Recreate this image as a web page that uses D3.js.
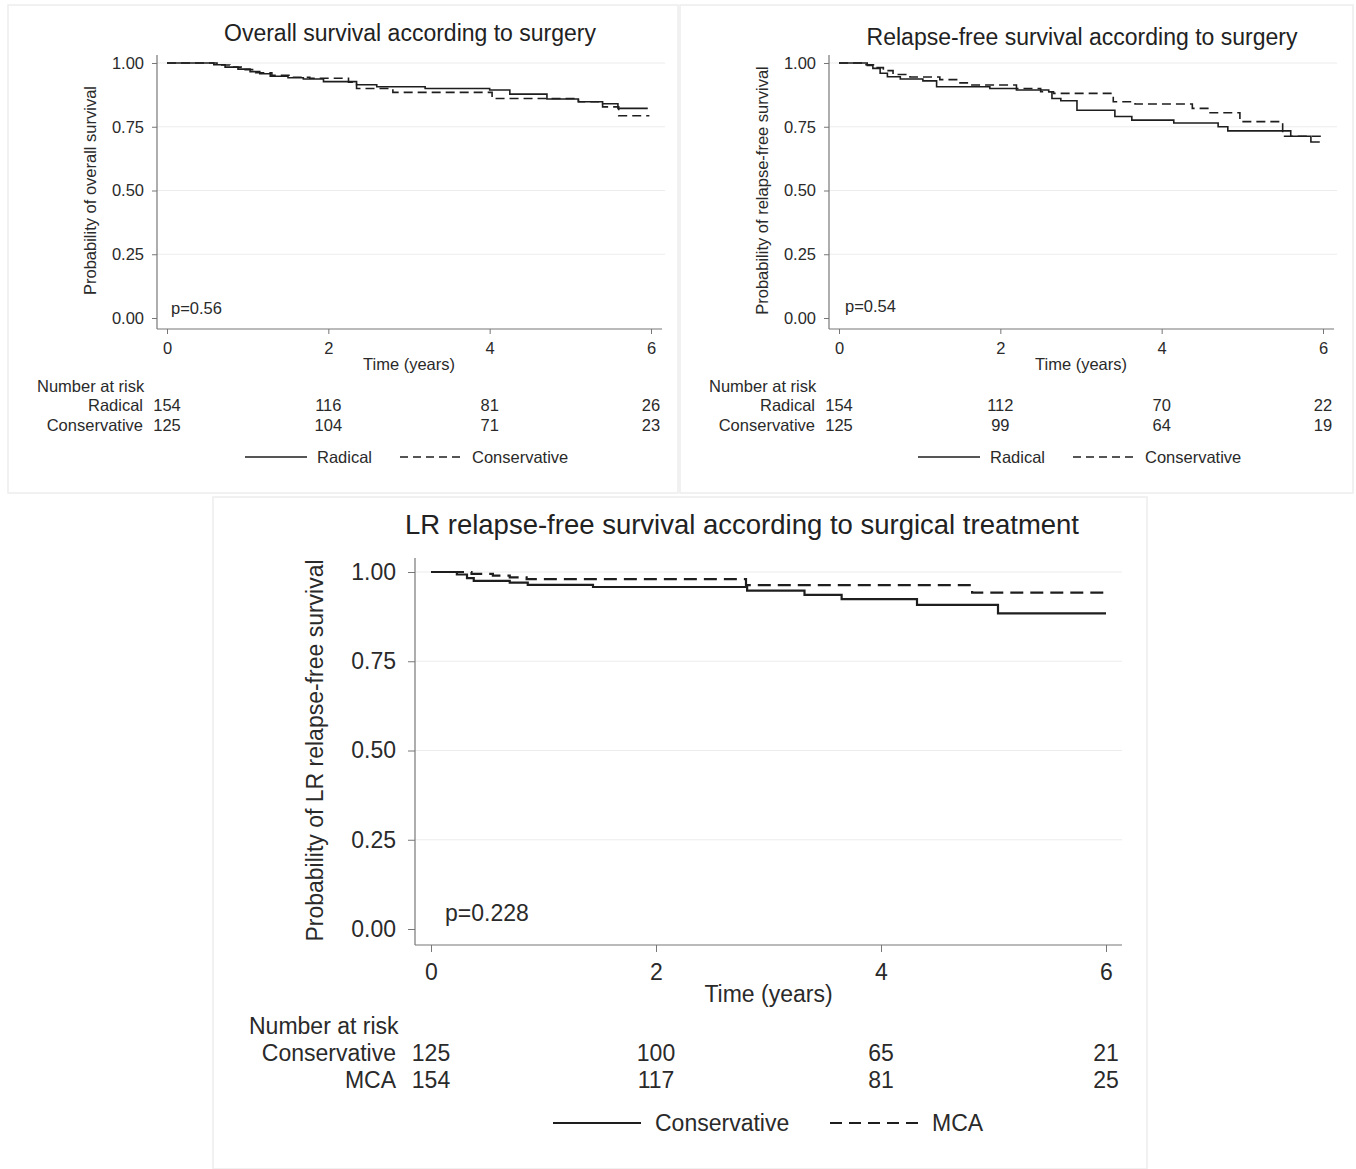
<!DOCTYPE html>
<html>
<head>
<meta charset="utf-8">
<script src="https://cdn.jsdelivr.net/npm/d3@7"></script>
<style>
  body { margin: 0; background: #fff; }
  svg { font-family: "Liberation Sans", Arial, sans-serif; }
</style>
</head>
<body>
<svg id="chart" width="1356" height="1169"></svg>
<script>
// ---- data: [time in years, survival] at each step ----
const timeTicks = [0, 2, 4, 6];
const probTicks = [0, 0.25, 0.5, 0.75, 1];

// Overall survival according to surgery
const osRadical = [[0,1],[0.58,0.993],[0.72,0.984],[0.88,0.976],[1.03,0.966],[1.15,0.958],[1.28,0.948],
  [1.5,0.942],[1.69,0.937],[1.94,0.927],[2.35,0.915],[2.6,0.907],[3.2,0.9],[4.0,0.894],[4.25,0.878],
  [4.71,0.859],[5.1,0.848],[5.4,0.84],[5.59,0.822],[5.96,0.822]];
const osConservative = [[0,1],[0.62,0.992],[0.78,0.984],[0.92,0.974],[1.1,0.962],[1.3,0.952],[1.55,0.944],
  [1.77,0.94],[2.25,0.925],[2.35,0.9],[2.8,0.885],[4.03,0.861],[5.1,0.848],[5.4,0.828],[5.6,0.793],[5.98,0.793]];
const osRiskRadical = [154, 116, 81, 26];
const osRiskConservative = [125, 104, 71, 23];

// Relapse-free survival according to surgery
const rfsRadical = [[0,1],[0.35,0.99],[0.42,0.979],[0.51,0.96],[0.6,0.946],[0.76,0.937],[1.04,0.93],[1.21,0.907],
  [1.87,0.9],[2.2,0.894],[2.6,0.887],[2.64,0.861],[2.75,0.852],[2.95,0.815],[3.42,0.79],[3.63,0.776],
  [4.15,0.765],[4.7,0.75],[4.82,0.734],[5.6,0.713],[5.85,0.69],[5.96,0.69]];
const rfsConservative = [[0,1],[0.3,0.993],[0.45,0.982],[0.55,0.97],[0.67,0.955],[0.88,0.945],[1.25,0.935],
  [1.5,0.922],[1.62,0.914],[2.2,0.9],[2.5,0.887],[2.66,0.881],[3.4,0.848],[3.67,0.839],[4.38,0.822],
  [4.6,0.805],[4.97,0.77],[5.5,0.713],[5.98,0.713]];
const rfsRiskRadical = [154, 112, 70, 22];
const rfsRiskConservative = [125, 99, 64, 19];

// LR relapse-free survival according to surgical treatment
const lrConservative = [[0,1],[0.23,0.993],[0.32,0.983],[0.38,0.975],[0.7,0.97],[0.86,0.964],[1.44,0.958],
  [2.81,0.948],[3.32,0.936],[3.65,0.924],[4.32,0.908],[5.04,0.884],[6.0,0.884]];
const lrMCA = [[0,1],[0.36,0.995],[0.55,0.99],[0.7,0.985],[0.85,0.98],[2.8,0.963],[4.81,0.942],[6.0,0.942]];
const lrRiskConservative = [125, 100, 65, 21];
const lrRiskMCA = [154, 117, 81, 25];

const svg = d3.select('#chart');

function drawKM(cfg) {
  const g = svg.append('g');
  const fs = cfg.fs;

  // faint panel frame
  g.append('rect')
    .attr('x', cfg.frame[0]).attr('y', cfg.frame[1])
    .attr('width', cfg.frame[2]).attr('height', cfg.frame[3])
    .attr('fill', '#fff').attr('stroke', '#ededed').attr('stroke-width', 1.5);

  const x = d3.scaleLinear().domain([0, 6]).range([cfg.x0, cfg.x6]);
  const y = d3.scaleLinear().domain([0, 1]).range([cfg.y0, cfg.y1]);

  // gridlines
  g.selectAll('.grid')
    .data(probTicks.filter(d => d > 0))
    .join('line')
      .attr('x1', cfg.axisX).attr('x2', cfg.gridRight)
      .attr('y1', d => y(d)).attr('y2', d => y(d))
      .attr('stroke', '#ececec').attr('stroke-width', 1.2);

  // y axis
  const yAxis = d3.axisLeft(y).tickValues(probTicks).tickFormat(d3.format('.2f'))
    .tickSize(cfg.tick).tickPadding(cfg.pad);
  g.append('g')
    .attr('transform', `translate(${cfg.axisX},0)`)
    .call(yAxis)
    .call(a => a.select('.domain').remove())
    .call(a => a.selectAll('line').attr('stroke', '#777'))
    .call(a => a.selectAll('text').attr('font-size', fs).attr('fill', '#2a2a2a')
      .attr('font-family', '"Liberation Sans", Arial, sans-serif'));
  g.append('line')
    .attr('x1', cfg.axisX).attr('x2', cfg.axisX)
    .attr('y1', cfg.axisTop).attr('y2', cfg.axisY)
    .attr('stroke', '#777').attr('stroke-width', 1.2);

  // x axis
  const xAxis = d3.axisBottom(x).tickValues(timeTicks).tickFormat(d3.format('d'))
    .tickSize(cfg.tick).tickPadding(cfg.pad);
  g.append('g')
    .attr('transform', `translate(0,${cfg.axisY})`)
    .call(xAxis)
    .call(a => a.select('.domain').remove())
    .call(a => a.selectAll('line').attr('stroke', '#777'))
    .call(a => a.selectAll('text').attr('font-size', fs).attr('fill', '#2a2a2a')
      .attr('font-family', '"Liberation Sans", Arial, sans-serif'));
  g.append('line')
    .attr('x1', cfg.axisX).attr('x2', cfg.axisRight)
    .attr('y1', cfg.axisY).attr('y2', cfg.axisY)
    .attr('stroke', '#777').attr('stroke-width', 1.2);

  // titles
  g.append('text')
    .attr('x', cfg.titleX).attr('y', cfg.titleY).attr('dy', '0.35em')
    .attr('text-anchor', 'middle').attr('font-size', cfg.titleFs).attr('fill', '#222')
    .text(cfg.title);
  g.append('text')
    .attr('x', (cfg.x0 + cfg.x6) / 2).attr('y', cfg.timeY).attr('dy', '0.35em')
    .attr('text-anchor', 'middle').attr('font-size', fs).attr('fill', '#2a2a2a')
    .text('Time (years)');
  g.append('text')
    .attr('transform', `translate(${cfg.yLabelX},${(cfg.y0 + cfg.y1) / 2}) rotate(-90)`)
    .attr('dy', '0.35em')
    .attr('text-anchor', 'middle').attr('font-size', fs).attr('fill', '#2a2a2a')
    .text(cfg.yLabel);
  g.append('text')
    .attr('x', cfg.pX).attr('y', cfg.pY).attr('dy', '0.35em')
    .attr('font-size', fs).attr('fill', '#2a2a2a')
    .text(cfg.pText);

  // curves
  const line = d3.line().x(d => x(d[0])).y(d => y(d[1])).curve(d3.curveStepAfter);
  cfg.series.forEach(s => {
    g.append('path')
      .attr('d', line(s.values))
      .attr('fill', 'none').attr('stroke', '#1e1e1e')
      .attr('stroke-width', cfg.lineW)
      .attr('stroke-dasharray', s.dashed ? cfg.dash : null);
  });

  // number at risk table
  g.append('text')
    .attr('x', cfg.riskX).attr('y', cfg.riskY).attr('dy', '0.35em')
    .attr('font-size', fs).attr('fill', '#2a2a2a').text('Number at risk');
  cfg.series.forEach((s, i) => {
    const ry = cfg.riskY + (i + 1) * cfg.riskStep;
    g.append('text')
      .attr('x', cfg.nameRight).attr('y', ry).attr('dy', '0.35em')
      .attr('text-anchor', 'end').attr('font-size', fs).attr('fill', '#2a2a2a')
      .text(s.name);
    g.selectAll(null)
      .data(s.risk)
      .join('text')
        .attr('x', (d, j) => x(timeTicks[j])).attr('y', ry).attr('dy', '0.35em')
        .attr('text-anchor', 'middle').attr('font-size', fs).attr('fill', '#2a2a2a')
        .text(d => d);
  });

  // legend
  cfg.series.forEach((s, i) => {
    const lx = cfg.legendX[i];
    g.append('line')
      .attr('x1', lx).attr('x2', lx + cfg.legendLen)
      .attr('y1', cfg.legendY).attr('y2', cfg.legendY)
      .attr('stroke', '#1e1e1e').attr('stroke-width', cfg.lineW)
      .attr('stroke-dasharray', s.dashed ? cfg.legendDash : null);
    g.append('text')
      .attr('x', lx + cfg.legendLen + cfg.legendGap).attr('y', cfg.legendY).attr('dy', '0.35em')
      .attr('font-size', fs).attr('fill', '#2a2a2a')
      .text(s.name);
  });
}

const topBase = {
  fs: 16.5, titleFs: 23, tick: 5, pad: 8, lineW: 1.6, dash: '9,5', legendDash: '8,5',
  y0: 318, y1: 63, axisTop: 55, axisY: 329, timeY: 364,
  riskY: 386, riskStep: 19.5, legendY: 457, legendLen: 62, legendGap: 10
};

drawKM(Object.assign({}, topBase, {
  frame: [8, 5, 670, 488],
  x0: 167, x6: 651, axisX: 157, axisRight: 662, gridRight: 665,
  title: 'Overall survival according to surgery', titleX: 410, titleY: 33,
  yLabel: 'Probability of overall survival', yLabelX: 90,
  pText: 'p=0.56', pX: 171, pY: 308,
  riskX: 37, nameRight: 143, legendX: [245, 400],
  series: [
    { name: 'Radical', values: osRadical, risk: osRiskRadical, dashed: false },
    { name: 'Conservative', values: osConservative, risk: osRiskConservative, dashed: true }
  ]
}));

drawKM(Object.assign({}, topBase, {
  frame: [680, 5, 673, 488],
  x0: 839, x6: 1323, axisX: 829, axisRight: 1334, gridRight: 1337,
  title: 'Relapse-free survival according to surgery', titleX: 1082, titleY: 37,
  yLabel: 'Probability of relapse-free survival', yLabelX: 762,
  pText: 'p=0.54', pX: 845, pY: 306,
  riskX: 709, nameRight: 815, legendX: [918, 1073],
  series: [
    { name: 'Radical', values: rfsRadical, risk: rfsRiskRadical, dashed: false },
    { name: 'Conservative', values: rfsConservative, risk: rfsRiskConservative, dashed: true }
  ]
}));

drawKM({
  frame: [213, 497, 934, 672],
  fs: 23, titleFs: 27.5, tick: 7, pad: 12, lineW: 2.2, dash: '13,7', legendDash: '12,7',
  x0: 431, x6: 1106, y0: 929, y1: 572, axisX: 415, axisTop: 558, axisY: 945,
  axisRight: 1122, gridRight: 1122, timeY: 994,
  title: 'LR relapse-free survival according to surgical treatment', titleX: 742, titleY: 524,
  yLabel: 'Probability of LR relapse-free survival', yLabelX: 315,
  pText: 'p=0.228', pX: 445, pY: 913,
  riskX: 249, riskY: 1026, riskStep: 27, nameRight: 396,
  legendY: 1123, legendLen: 88, legendGap: 14, legendX: [553, 830],
  series: [
    { name: 'Conservative', values: lrConservative, risk: lrRiskConservative, dashed: false },
    { name: 'MCA', values: lrMCA, risk: lrRiskMCA, dashed: true }
  ]
});
</script>
</body>
</html>
